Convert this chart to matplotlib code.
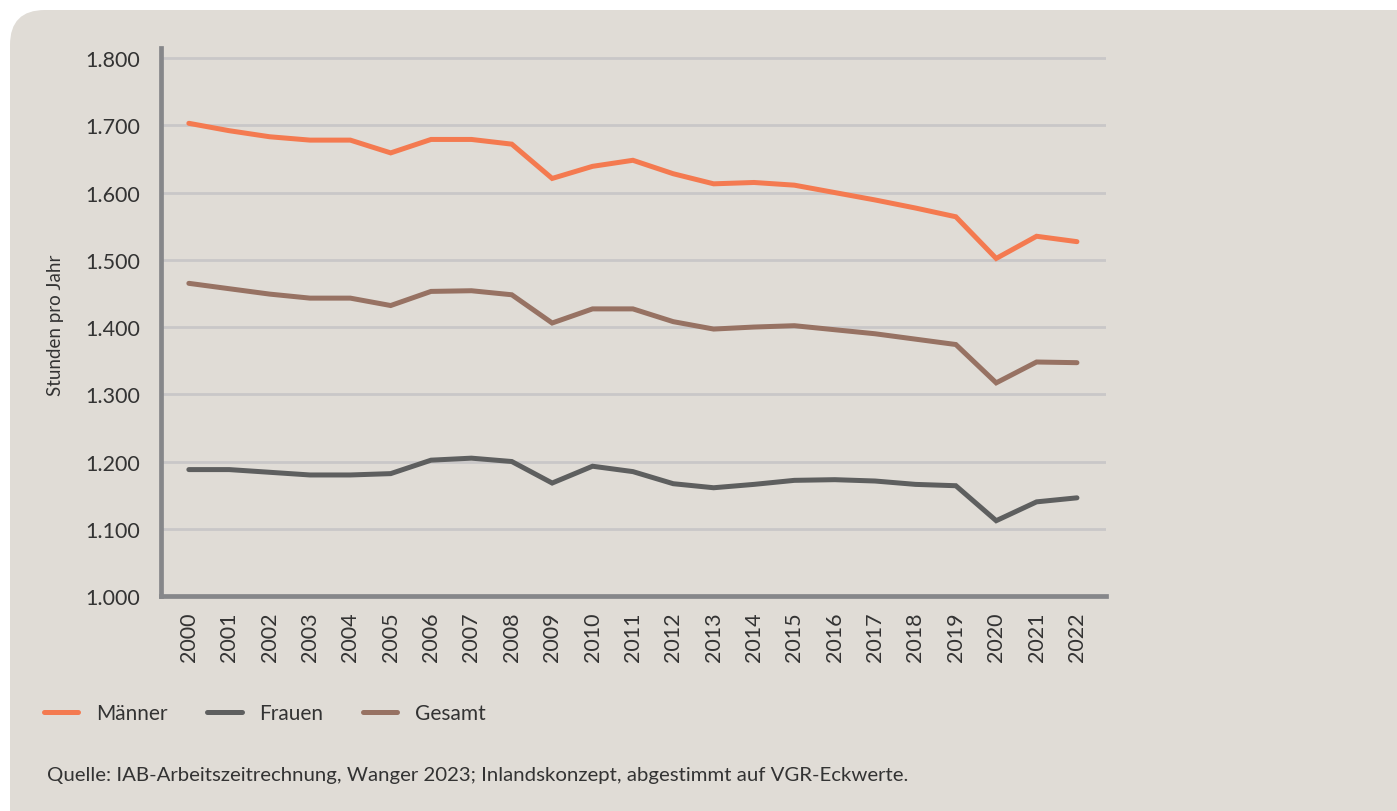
import matplotlib
matplotlib.use("Agg")
import matplotlib.pyplot as plt
from matplotlib.patches import FancyBboxPatch
from matplotlib.ticker import FuncFormatter

years = list(range(2000, 2023))
maenner = [1703, 1692, 1683, 1678, 1678, 1659, 1679, 1679, 1672, 1621, 1639,
           1648, 1628, 1613, 1615, 1611, 1600, 1589, 1577, 1564, 1502, 1535, 1527]
frauen = [1188, 1188, 1184, 1180, 1180, 1182, 1202, 1205, 1200, 1168, 1193,
          1185, 1167, 1161, 1166, 1172, 1173, 1171, 1166, 1164, 1112, 1140, 1146]
gesamt = [1465, 1457, 1449, 1443, 1443, 1432, 1453, 1454, 1448, 1406, 1427,
          1427, 1408, 1397, 1400, 1402, 1396, 1390, 1382, 1374, 1317, 1348, 1347]
yticks = [1000, 1100, 1200, 1300, 1400, 1500, 1600, 1700, 1800]
series_names = ["Männer", "Frauen", "Gesamt"]
ylabel = "Stunden pro Jahr"
source = "Quelle: IAB-Arbeitszeitrechnung, Wanger 2023; Inlandskonzept, abgestimmt auf VGR-Eckwerte."

BG = "#e0dcd6"
C_M = "#f47a50"
C_F = "#5e5f5f"
C_G = "#977263"
GRID = "#c9c7c8"
SPINE = "#86878a"
TXT = "#333333"

plt.rcParams['font.family'] = ['Lato', 'DejaVu Sans']

W, H = 1397, 812
fig = plt.figure(figsize=(W / 100, H / 100), dpi=100)
fig.patch.set_facecolor("white")

panel = FancyBboxPatch((10 / W, -0.05), 1.2, 1 - 11 / H + 0.05,
                       boxstyle="round,pad=0,rounding_size=0.025",
                       transform=fig.transFigure, facecolor=BG, edgecolor="none",
                       mutation_aspect=W / H, zorder=-1)
fig.patches.append(panel)

ax = fig.add_axes([161 / W, 1 - 597 / H, (1106 - 161) / W, (597 - 49) / H])
ax.set_facecolor("none")

lw = 3.6
ax.plot(years, maenner, color=C_M, lw=lw, solid_capstyle="round", solid_joinstyle="miter", label=series_names[0], zorder=3)
ax.plot(years, frauen, color=C_F, lw=lw, solid_capstyle="round", solid_joinstyle="miter", label=series_names[1], zorder=3)
ax.plot(years, gesamt, color=C_G, lw=lw, solid_capstyle="round", solid_joinstyle="miter", label=series_names[2], zorder=3)

ax.set_xlim(1999.31, 2022.72)
ax.set_ylim(1000, 1815)
ax.set_yticks(yticks)
ax.yaxis.set_major_formatter(FuncFormatter(lambda v, p: f"{int(v):,}".replace(",", ".")))
ax.set_xticks(years)
ax.set_xticklabels([str(y) for y in years], rotation=90, va="top", ha="center")
ax.tick_params(axis="both", length=0, labelsize=15.5, colors=TXT)
ax.tick_params(axis="y", pad=15)
ax.tick_params(axis="x", pad=11)
ax.grid(axis="y", color=GRID, lw=2, zorder=1)
ax.set_axisbelow(True)
for s in ["top", "right"]:
    ax.spines[s].set_visible(False)
for s in ["left", "bottom"]:
    ax.spines[s].set_color(SPINE)
    ax.spines[s].set_linewidth(3.4)
    ax.spines[s].set_zorder(4)

fig.text(55 / W, 1 - 325 / H, ylabel, rotation=90, ha="center", va="center", fontsize=13.5, color=TXT)

handles, labels = ax.get_legend_handles_labels()
leg = fig.legend(handles, labels, loc="center left", bbox_to_anchor=(44 / W, 1 - 714 / H),
                 ncol=3, frameon=False, fontsize=15, handlelength=1.65, handletextpad=0.85,
                 columnspacing=1.9, borderaxespad=0, borderpad=0)
for t in leg.get_texts():
    t.set_color(TXT)

fig.text(47 / W, 1 - 776 / H, source, ha="left", va="center", fontsize=14.7, color=TXT)

fig.savefig("out.png", dpi=100, facecolor=fig.get_facecolor())
